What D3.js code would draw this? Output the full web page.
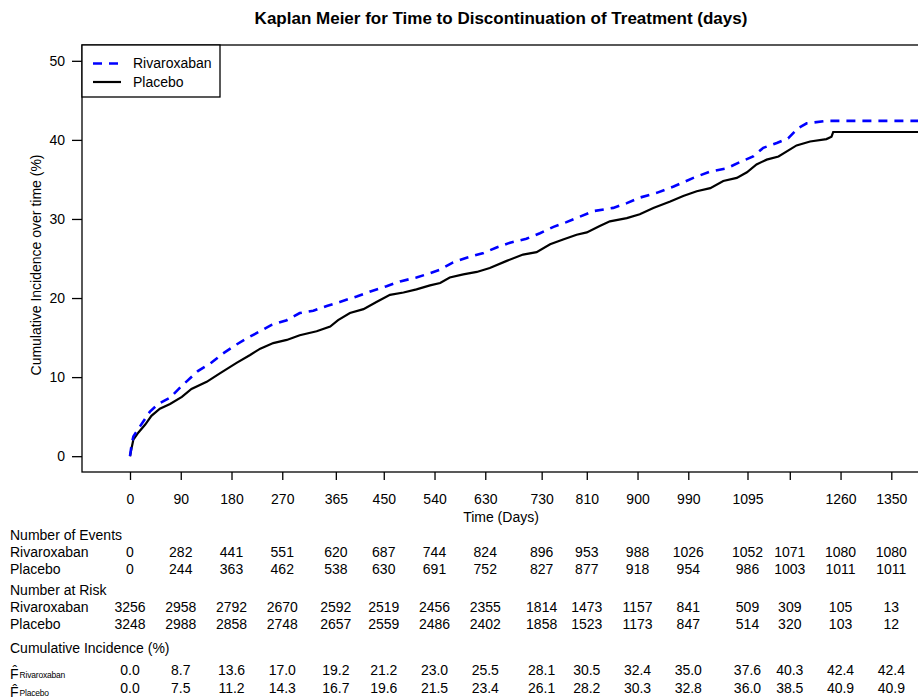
<!DOCTYPE html>
<html>
<head>
<meta charset="utf-8">
<script src="https://cdn.jsdelivr.net/npm/d3@7"></script>
<style>
  body { margin: 0; background: #fff; }
  svg { display: block; font-family: "Liberation Sans", Arial, sans-serif; }
</style>
</head>
<body>
<svg id="km" width="918" height="698"></svg>
<script>
// table columns / x ticks
const tickDays = [0, 90, 180, 270, 365, 450, 540, 630, 730, 810, 900, 990, 1095, 1170, 1260, 1350];
const tickLabels = ['0', '90', '180', '270', '365', '450', '540', '630', '730', '810', '900', '990', '1095', '', '1260', '1350'];
const yTicks = [0, 10, 20, 30, 40, 50];

const eventsRiv = [0, 282, 441, 551, 620, 687, 744, 824, 896, 953, 988, 1026, 1052, 1071, 1080, 1080];
const eventsPla = [0, 244, 363, 462, 538, 630, 691, 752, 827, 877, 918, 954, 986, 1003, 1011, 1011];
const riskRiv = [3256, 2958, 2792, 2670, 2592, 2519, 2456, 2355, 1814, 1473, 1157, 841, 509, 309, 105, 13];
const riskPla = [3248, 2988, 2858, 2748, 2657, 2559, 2486, 2402, 1858, 1523, 1173, 847, 514, 320, 103, 12];
const ciRiv = ['0.0', '8.7', '13.6', '17.0', '19.2', '21.2', '23.0', '25.5', '28.1', '30.5', '32.4', '35.0', '37.6', '40.3', '42.4', '42.4'];
const ciPla = ['0.0', '7.5', '11.2', '14.3', '16.7', '19.6', '21.5', '23.4', '26.1', '28.2', '30.3', '32.8', '36.0', '38.5', '40.9', '40.9'];

// curves: [day, cumulative incidence %]
const rivCurve = [
  [0, 0], [3, 1.5], [6, 2.5], [18, 3.8], [35, 5.6], [50, 6.6], [71, 7.4], [92, 8.9], [121, 10.8],
  [142, 11.7], [165, 13.0], [186, 14.0], [207, 14.9], [228, 15.7], [251, 16.6], [278, 17.2],
  [301, 18.1], [325, 18.4], [349, 19.0], [372, 19.5], [402, 20.2], [429, 20.9], [455, 21.5],
  [479, 22.1], [508, 22.6], [526, 23.0], [550, 23.6], [573, 24.5], [597, 25.1], [627, 25.7],
  [650, 26.4], [674, 27.0], [703, 27.5], [727, 28.2], [751, 29.0], [774, 29.6], [798, 30.3],
  [822, 31.0], [857, 31.4], [881, 32.0], [904, 32.7], [934, 33.3], [964, 34.1], [999, 35.2],
  [1029, 36.0], [1058, 36.4], [1082, 37.2], [1105, 37.9], [1123, 39.0], [1147, 39.6],
  [1167, 40.2], [1185, 41.5], [1200, 42.1], [1235, 42.4], [1400, 42.4]
];
const plaCurve = [
  [0, 0], [3, 1.1], [6, 2.1], [15, 3.0], [27, 4.0], [38, 5.1], [53, 6.0], [71, 6.6], [92, 7.5],
  [109, 8.5], [136, 9.4], [160, 10.5], [189, 11.8], [213, 12.8], [231, 13.6], [254, 14.3],
  [278, 14.7], [301, 15.3], [331, 15.8], [355, 16.4], [369, 17.2], [390, 18.1], [414, 18.6],
  [437, 19.5], [461, 20.4], [485, 20.7], [508, 21.1], [532, 21.6], [550, 21.9], [567, 22.6],
  [591, 23.0], [615, 23.3], [638, 23.8], [668, 24.7], [697, 25.5], [721, 25.8], [745, 26.8],
  [768, 27.4], [792, 28.0], [810, 28.3], [833, 29.1], [851, 29.7], [881, 30.1], [904, 30.6],
  [928, 31.4], [958, 32.2], [981, 32.9], [1005, 33.5], [1029, 33.9], [1052, 34.8], [1076, 35.2],
  [1094, 35.9], [1111, 36.9], [1129, 37.5], [1150, 37.9], [1182, 39.3], [1206, 39.8],
  [1235, 40.1], [1244, 40.4], [1247, 41.0], [1400, 41.0]
];

const svg = d3.select('svg#km');
const box = { left: 82, right: 920, top: 45, bottom: 472 };
const font = 14;

const x = d3.scaleLinear().domain([0, 1350]).range([130, 891.3]);
const y = d3.scaleLinear().domain([-2, 52]).range([box.bottom, box.top]);

// title
svg.append('text')
    .attr('x', 501)
    .attr('y', 24)
    .attr('text-anchor', 'middle')
    .attr('font-weight', 'bold')
    .attr('font-size', 17)
    .text('Kaplan Meier for Time to Discontinuation of Treatment (days)');

// clip + frame
svg.append('clipPath').attr('id', 'plotClip')
  .append('rect')
    .attr('x', box.left).attr('y', box.top)
    .attr('width', box.right - box.left).attr('height', box.bottom - box.top);

svg.append('rect')
    .attr('x', box.left).attr('y', box.top)
    .attr('width', box.right - box.left).attr('height', box.bottom - box.top)
    .attr('fill', 'none').attr('stroke', '#000').attr('stroke-width', 1.3);

// y axis
const yAxis = svg.append('g')
    .attr('transform', `translate(${box.left},0)`)
    .call(d3.axisLeft(y).tickValues(yTicks).tickSize(10).tickPadding(7));
yAxis.select('.domain').remove();
yAxis.selectAll('text').attr('font-size', font).attr('font-family', null).attr('fill', '#000');
yAxis.selectAll('line').attr('stroke-width', 1.3);

// x axis
const xAxis = svg.append('g')
    .attr('transform', `translate(0,${box.bottom})`)
    .call(d3.axisBottom(x).tickValues(tickDays).tickFormat((d, i) => tickLabels[i]).tickSize(8).tickPadding(14));
xAxis.select('.domain').remove();
xAxis.selectAll('text').attr('font-size', font).attr('font-family', null).attr('fill', '#000');
xAxis.selectAll('line').attr('stroke-width', 1.3);

svg.append('text')
    .attr('x', 501)
    .attr('y', 522)
    .attr('text-anchor', 'middle')
    .attr('font-size', font)
    .text('Time (Days)');

svg.append('text')
    .attr('transform', `translate(41,265) rotate(-90)`)
    .attr('text-anchor', 'middle')
    .attr('font-size', font)
    .text('Cumulative Incidence over time (%)');

// curves
const line = d3.line().x(d => x(d[0])).y(d => y(d[1]));
const plot = svg.append('g').attr('clip-path', 'url(#plotClip)');
plot.append('path')
    .datum(plaCurve)
    .attr('d', line)
    .attr('fill', 'none')
    .attr('stroke', '#000')
    .attr('stroke-width', 2.2);
plot.append('path')
    .datum(rivCurve)
    .attr('d', line)
    .attr('fill', 'none')
    .attr('stroke', '#0000ff')
    .attr('stroke-width', 2.6)
    .attr('stroke-dasharray', '9,7');

// legend
const legend = svg.append('g');
legend.append('rect')
    .attr('x', box.left).attr('y', box.top)
    .attr('width', 138).attr('height', 52)
    .attr('fill', '#fff').attr('stroke', '#000').attr('stroke-width', 1.3);
const legendItems = [
  { name: 'Rivaroxaban', color: '#0000ff', dash: '9,7', w: 2.6 },
  { name: 'Placebo', color: '#000', dash: null, w: 2.2 }
];
legendItems.forEach((it, i) => {
  const ly = 63.5 + i * 18.5;
  legend.append('line')
      .attr('x1', 93).attr('x2', 121).attr('y1', ly).attr('y2', ly)
      .attr('stroke', it.color).attr('stroke-width', it.w)
      .attr('stroke-dasharray', it.dash);
  legend.append('text')
      .attr('x', 133).attr('y', ly).attr('dy', '0.35em')
      .attr('font-size', font)
      .text(it.name);
});

// risk table
const table = svg.append('g').attr('font-size', font);
function label(txt, yc) {
  table.append('text').attr('x', 10).attr('y', yc).attr('dy', '0.35em').text(txt);
}
function row(values, yc) {
  table.selectAll(null)
    .data(values)
    .join('text')
      .attr('x', (d, i) => x(tickDays[i]))
      .attr('y', yc)
      .attr('dy', '0.35em')
      .attr('text-anchor', 'middle')
      .text(d => d);
}
label('Number of Events', 535);
label('Rivaroxaban', 551.7); row(eventsRiv, 551.7);
label('Placebo', 569); row(eventsPla, 569);
label('Number at Risk', 590);
label('Rivaroxaban', 606.7); row(riskRiv, 606.7);
label('Placebo', 624.3); row(riskPla, 624.3);
label('Cumulative Incidence (%)', 647.7);
row(ciRiv, 670);
row(ciPla, 688.3);

// F-hat labels: F with a hat and a small subscript
[{ sub: 'Rivaroxaban', yb: 678.5 }, { sub: 'Placebo', yb: 697 }].forEach(f => {
  const t = table.append('text').attr('x', 10).attr('y', f.yb);
  t.append('tspan').text('F\u0302');
  t.append('tspan').attr('font-size', 8.5).attr('dx', 1).attr('dy', -1).attr('letter-spacing', -0.2).text(f.sub);
});
</script>
</body>
</html>
